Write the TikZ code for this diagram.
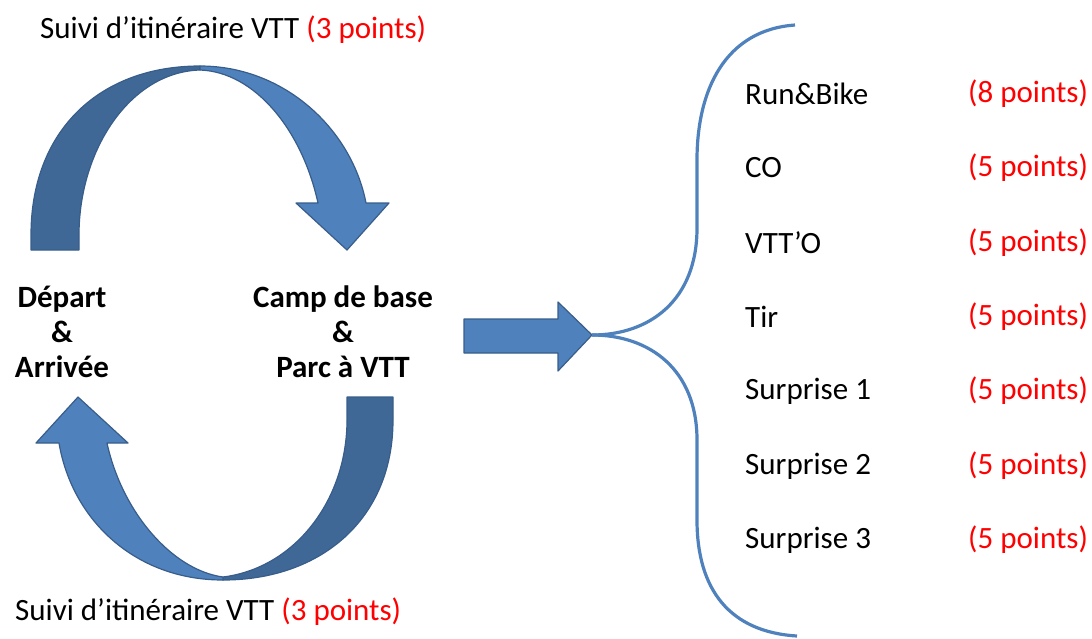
\documentclass[tikz,border=0pt]{standalone}
\usepackage{fontspec}
\setmainfont{Carlito}
\usepackage{tikz}
\definecolor{lightblue}{HTML}{4F81BD}
\definecolor{darkblue}{HTML}{3F6897}
\definecolor{edgeblue}{HTML}{385D8A}
\definecolor{ptred}{HTML}{FF0000}

\begin{document}
\begin{tikzpicture}[x=1pt, y=-1pt,
		txt/.style={font=\fontsize{31}{36}\selectfont, inner sep=0pt},
		bold/.style={txt, font=\fontsize{31}{36}\selectfont\bfseries, align=center},
		item/.style={txt, anchor=west},
		pts/.style={txt, anchor=west, text=ptred},
		light/.style={fill=lightblue, draw=edgeblue, line width=1.2pt, line join=round},
		dark/.style={fill=darkblue, draw=edgeblue, line width=1.2pt, line join=round},
		brace/.style={draw=lightblue, line width=3.2pt}]
		\useasboundingbox (0,0) rectangle (1092,638);

		% top arrow
		\draw[dark] (31,250) -- (31,235) .. controls (31,130) and (100,66) .. (200,66)
			-- (200,70) .. controls (130,72) and (79,150) .. (79,235) -- (79,250) -- cycle;
		\draw[light] (200,66) .. controls (285,66) and (352,130) .. (366,203)
			-- (389,203) -- (347,250) -- (296,203) -- (318,203)
			.. controls (302,130) and (255,72) .. (200,70) -- cycle;

		% bottom arrow
		\draw[dark] (393,397) -- (393,420) .. controls (393,520) and (320,580) .. (223,580)
			-- (223,577) .. controls (295,568) and (347,500) .. (347,420) -- (347,397) -- cycle;
		\draw[light] (223,580) .. controls (135,580) and (72,520) .. (59,443)
			-- (36,443) -- (78,397) -- (128,443) -- (107,443)
			.. controls (122,512) and (172,570) .. (223,577) -- cycle;

		% middle arrow
		\draw[light] (464,319) -- (558,319) -- (558,302) -- (592,335) -- (558,371)
			-- (558,353) -- (464,353) -- cycle;

		% labels
		\node[txt, anchor=west] (t) at (40,30) {Suivi d’itinéraire VTT \textcolor{ptred}{(3 points)}};
		\node[txt, anchor=west] (b) at (15,612) {Suivi d’itinéraire VTT \textcolor{ptred}{(3 points)}};
		\node[bold] (d) at (62,332) {Départ\\[-1pt]\&\\[-1pt]Arrivée};
		\node[bold] (c) at (343,332) {Camp de base\\[-1pt]\&\\[-1pt]Parc à VTT};

		% brace
		\coordinate (tip) at (592,335);
		\coordinate (up) at (795,25);
		\coordinate (down) at (797,636);
		\draw[brace] (up) .. controls (725,30) and (697,90) .. (697,160) -- (697,228)
			.. controls (697,300) and (650,335) .. (tip);
		\draw[brace] (tip) .. controls (650,335) and (697,370) .. (697,440) -- (697,520)
			.. controls (697,590) and (730,632) .. (down);

		% list
		\node[item] (1) at (745,94) {Run\&Bike};
		\node[item] (2) at (745,168) {CO};
		\node[item] (3) at (745,243) {VTT’O};
		\node[item] (4) at (745,317) {Tir};
		\node[item] (5) at (745,391) {Surprise 1};
		\node[item] (6) at (745,466) {Surprise 2};
		\node[item] (7) at (745,540) {Surprise 3};
		\node[pts] (p1) at (968,94) {(8 points)};
		\node[pts] (p2) at (968,168) {(5 points)};
		\node[pts] (p3) at (968,243) {(5 points)};
		\node[pts] (p4) at (968,317) {(5 points)};
		\node[pts] (p5) at (968,391) {(5 points)};
		\node[pts] (p6) at (968,466) {(5 points)};
		\node[pts] (p7) at (968,540) {(5 points)};
	\end{tikzpicture}
\end{document}
